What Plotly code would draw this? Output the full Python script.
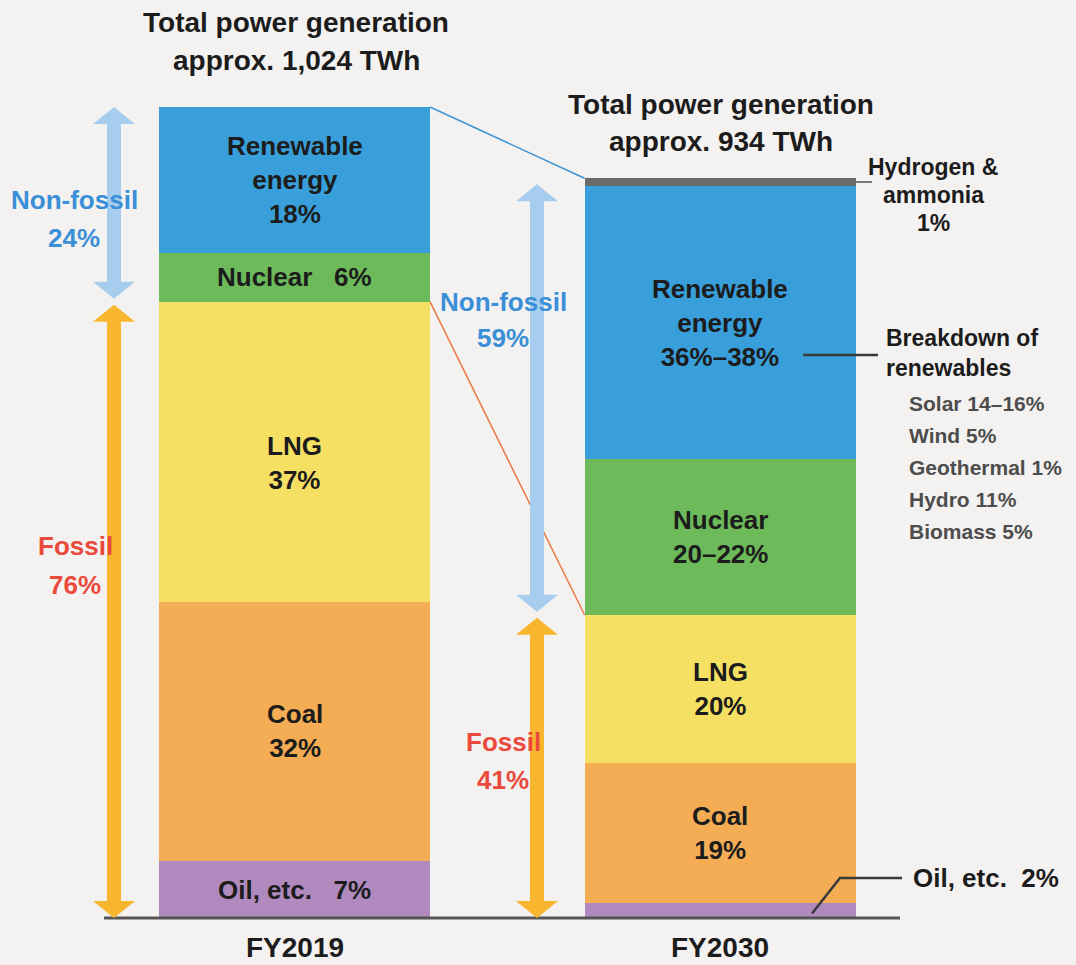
import plotly.graph_objects as go

# ---------------- data ----------------
categories = ["FY2019", "FY2030"]
total_twh = [1024, 934]
sources = ["Oil, etc.", "Coal", "LNG", "Nuclear", "Renewable energy", "Hydrogen & ammonia"]
share_2019 = [7, 32, 37, 6, 18, 0]
share_2030 = [2, 19, 20, 21, 37, 1]          # nuclear 20–22 %, renewables 36–38 %
label_2019 = ["Oil, etc.\u00a0\u00a0 7%", "Coal<br>32%", "LNG<br>37%", "Nuclear\u00a0\u00a0 6%",
              "Renewable<br>energy<br>18%", ""]
label_2030 = ["", "Coal<br>19%", "LNG<br>20%", "Nuclear<br>20–22%",
              "Renewable<br>energy<br>36%–38%", ""]
nonfossil_share = [24, 59]
fossil_share = [76, 41]
renewable_breakdown = ["Solar 14–16%", "Wind 5%", "Geothermal 1%", "Hydro 11%", "Biomass 5%"]

# ---------------- styles / layout constants ----------------
W, H = 1076, 965
BASE_PX = 918            # pixel row of the zero line
PX_PER_TWH = 0.792
BAR_X = [294.5, 720]
BAR_W = 271
ARROW_X = [114, 537]
colors = ["#b089be", "#f4ad55", "#f6e063", "#6cba5a", "#399fda", "#6a6a6a"]
BG = "#f4f2f0"
FONT = "Liberation Sans"
DARK = "#1c1c1c"
BLUE_TXT = "#3a8fd8"
RED_TXT = "#ea4a3c"

ymin = -(H - BASE_PX) / PX_PER_TWH
ymax = ymin + H / PX_PER_TWH

fig = go.Figure()
values = []
for i, src in enumerate(sources):
    v = [total_twh[0] * share_2019[i] / 100, total_twh[1] * share_2030[i] / 100]
    values.append(v)
    fig.add_bar(x=BAR_X, y=v, width=BAR_W, name=src, marker_color=colors[i],
                marker_line_width=0, showlegend=False, hoverinfo="skip")

# cumulative tops
cum = [[0, 0]]
for v in values:
    cum.append([cum[-1][0] + v[0], cum[-1][1] + v[1]])


def px2paper_y(py):
    return 1 - py / H


def txt(x, py, text, size, color=DARK, xanchor="center", bold=True):
    fig.add_annotation(x=x / W, y=px2paper_y(py), xref="paper", yref="paper",
                       text=f"<b>{text}</b>" if bold else text, showarrow=False,
                       xanchor=xanchor, yanchor="middle",
                       font=dict(family=FONT, size=size, color=color))


# segment labels (data positioned)
for yi, labels in enumerate([label_2019, label_2030]):
    for i, lab in enumerate(labels):
        if not lab:
            continue
        mid = (cum[i][yi] + cum[i + 1][yi]) / 2
        shift = -11 if (yi == 0 and sources[i] == "LNG") else 0
        fig.add_annotation(x=BAR_X[yi], y=mid, xref="x", yref="y", text=f"<b>{lab}</b>",
                           showarrow=False, yshift=shift,
                           font=dict(family=FONT, size=26, color=DARK))

# titles
txt(296, 23, "Total power generation", 28)
txt(296, 60, f"approx. {total_twh[0]:,} TWh", 28)
txt(721, 105, "Total power generation", 28)
txt(721, 142, f"approx. {total_twh[1]:,} TWh", 28)

# category labels
txt(BAR_X[0], 947, categories[0], 28)
txt(BAR_X[1], 947, categories[1], 28)

# fossil / non-fossil labels
txt(74, 200, "Non-fossil", 26, BLUE_TXT)
txt(74, 238, f"{nonfossil_share[0]}%", 26, BLUE_TXT)
txt(75, 546, "Fossil", 26, RED_TXT)
txt(75, 585, f"{fossil_share[0]}%", 26, RED_TXT)
txt(503, 302, "Non-fossil", 26, BLUE_TXT)
txt(503, 338, f"{nonfossil_share[1]}%", 26, BLUE_TXT)
txt(503, 742, "Fossil", 26, RED_TXT)
txt(503, 780, f"{fossil_share[1]}%", 26, RED_TXT)

# side annotations for FY2030
txt(933, 167, "Hydrogen &", 23)
txt(933, 195, "ammonia", 23)
txt(933, 223, f"{share_2030[5]}%", 23)
txt(884, 338, "Breakdown of", 23, xanchor="left")
txt(884, 368, "renewables", 23, xanchor="left")
for k, item in enumerate(renewable_breakdown):
    txt(907, 403 + k * 32, item, 21, "#4d4d4d", xanchor="left")
txt(911, 878, f"Oil, etc.\u00a0 {share_2030[0]}%", 26, xanchor="left")

shapes = []
# baseline
shapes.append(dict(type="line", xref="x", yref="y", x0=104, x1=900, y0=0, y1=0,
                   line=dict(color="#555555", width=3), layer="above"))
# connecting lines between bars
left_edge = [b - BAR_W / 2 for b in BAR_X]
right_edge = [b + BAR_W / 2 for b in BAR_X]
shapes.append(dict(type="line", xref="x", yref="y", x0=right_edge[0], y0=cum[-1][0],
                   x1=left_edge[1], y1=cum[-1][1], line=dict(color="#3d93d3", width=1.5)))
lng_top = [cum[3][0], cum[3][1]]
shapes.append(dict(type="line", xref="x", yref="y", x0=right_edge[0], y0=lng_top[0],
                   x1=left_edge[1], y1=lng_top[1], line=dict(color="#ec7845", width=1.5)))

# double arrows
HEAD_H = 17 / PX_PER_TWH
HEAD_W = 42
GAP = 3 / PX_PER_TWH
SHAFT = 14


def darrow(x, y_lo, y_hi, color):
    shapes.append(dict(type="line", xref="x", yref="y", x0=x, x1=x,
                       y0=y_lo + HEAD_H * 0.8, y1=y_hi - HEAD_H * 0.8,
                       line=dict(color=color, width=SHAFT)))
    shapes.append(dict(type="path", xref="x", yref="y",
                       path=f"M {x - HEAD_W / 2},{y_hi - HEAD_H} L {x + HEAD_W / 2},{y_hi - HEAD_H} L {x},{y_hi} Z",
                       fillcolor=color, line=dict(width=0)))
    shapes.append(dict(type="path", xref="x", yref="y",
                       path=f"M {x - HEAD_W / 2},{y_lo + HEAD_H} L {x + HEAD_W / 2},{y_lo + HEAD_H} L {x},{y_lo} Z",
                       fillcolor=color, line=dict(width=0)))


for yi in range(2):
    top = cum[-1][yi]
    darrow(ARROW_X[yi], lng_top[yi] + GAP, top - (0 if yi == 0 else 6 / PX_PER_TWH), "#a7cdee")
    darrow(ARROW_X[yi], 0, lng_top[yi] - GAP, "#f8b62e")

# leader lines (FY2030)
h2_mid = (cum[5][1] + cum[6][1]) / 2
shapes.append(dict(type="line", xref="x", yref="y", x0=right_edge[1], x1=872, y0=h2_mid, y1=h2_mid,
                   line=dict(color="#777777", width=2)))
shapes.append(dict(type="line", xref="x", yref="paper", x0=803, x1=878,
                   y0=px2paper_y(355), y1=px2paper_y(355), line=dict(color="#3a3a3a", width=2.5)))
oil_mid = (cum[0][1] + cum[1][1]) / 2
shapes.append(dict(type="path", xref="x", yref="y",
                   path=f"M 812,{oil_mid - 3 / PX_PER_TWH} L 840,{(BASE_PX - 878) / PX_PER_TWH} L 902,{(BASE_PX - 878) / PX_PER_TWH}",
                   line=dict(color="#3a3a3a", width=2.5)))

fig.update_layout(
    width=W, height=H, margin=dict(l=0, r=0, t=0, b=0),
    paper_bgcolor=BG, plot_bgcolor=BG, barmode="stack", bargap=0,
    xaxis=dict(range=[0, W], visible=False, fixedrange=True),
    yaxis=dict(range=[ymin, ymax], visible=False, fixedrange=True),
    shapes=shapes, showlegend=False,
)

fig.write_html("out.html", config={"displayModeBar": False})
